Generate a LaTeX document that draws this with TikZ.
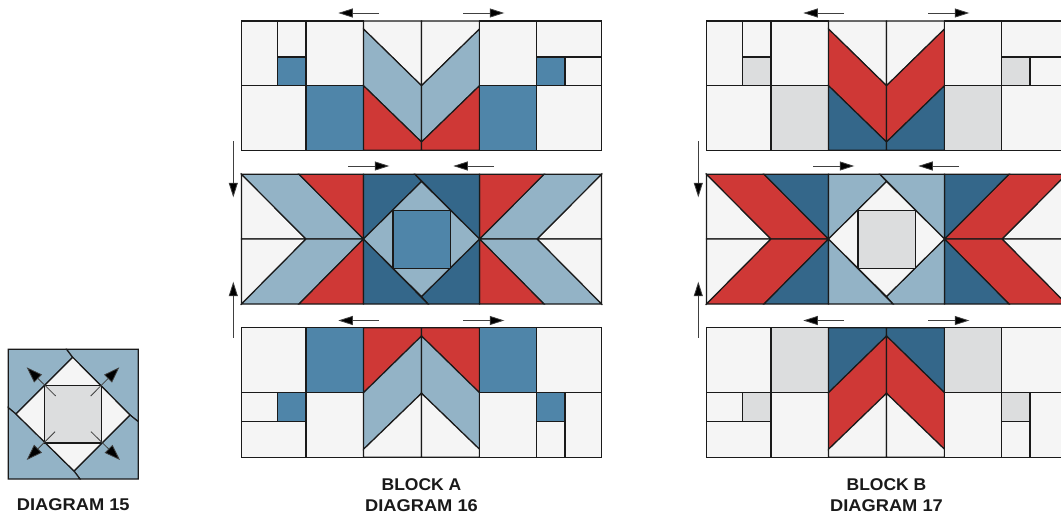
\documentclass[tikz,border=0pt]{standalone}
\usepackage{fontspec}
\setmainfont{Liberation Sans}
\newfontface\captionwide[FakeStretch=1.075]{Liberation Sans Bold}
\newfontface\captionnarrow[FakeStretch=1.03]{Liberation Sans Bold}
\usetikzlibrary{arrows.meta}
\definecolor{pale}{HTML}{F5F5F5}
\definecolor{lightblue}{HTML}{93B3C6}
\definecolor{midblue}{HTML}{4F85A9}
\definecolor{darkblue}{HTML}{34678A}
\definecolor{quiltred}{HTML}{CF3836}
\definecolor{quiltgray}{HTML}{DCDDDE}
\definecolor{inkline}{HTML}{1A1A1A}
\tikzset{
  patch/.style={draw=inkline,line width=1.2pt,line join=miter},
  pressarrow/.style={draw=black!75,line width=0.8pt,-{Triangle[length=14.5pt,width=9pt,fill=black]}},
  openarrow/.style={draw=black!75,line width=0.8pt,-{Triangle[length=16pt,width=11pt,fill=black]}},
  caption/.style={text=inkline,align=center,inner sep=0pt,anchor=base},
  captionlong/.style={caption,font=\captionwide\fontsize{17}{21}\selectfont},
  captionshort/.style={caption,font=\captionnarrow\fontsize{17}{21}\selectfont}
}
% #1 x shift, #2 chevron, #3 chevron side, #4 squares, #5 pinwheel, #6 diamond
\newcommand{\quiltblock}[6]{%
\begin{scope}[xshift=#1pt]
  % top row
  \draw[patch,fill=pale] (241.5,21) rectangle (277.5,85.7);
  \draw[patch,fill=pale] (277.5,21) rectangle (306,57);
  \draw[patch,fill=#4] (277.5,57) rectangle (306,85.7);
  \draw[patch,fill=pale] (306,21) rectangle (363.5,85.7);
  \draw[patch,fill=pale] (241.5,85.7) rectangle (306,150.3);
  \draw[patch,fill=#4] (306,85.7) rectangle (363.5,150.3);
  \draw[patch,fill=pale] (363.5,21) -- (421.5,21) -- (421.5,85.7) -- (363.5,29) -- cycle;
  \draw[patch,fill=pale] (479.5,21) -- (421.5,21) -- (421.5,85.7) -- (479.5,29) -- cycle;
  \draw[patch,fill=#2] (363.5,29) -- (421.5,85.7) -- (421.5,142) -- (363.5,85.7) -- cycle;
  \draw[patch,fill=#2] (479.5,29) -- (421.5,85.7) -- (421.5,142) -- (479.5,85.7) -- cycle;
  \draw[patch,fill=#3] (363.5,85.7) -- (421.5,142) -- (421.5,150.3) -- (363.5,150.3) -- cycle;
  \draw[patch,fill=#3] (479.5,85.7) -- (421.5,142) -- (421.5,150.3) -- (479.5,150.3) -- cycle;
  \draw[patch,fill=pale] (479.5,21) rectangle (536.5,85.7);
  \draw[patch,fill=pale] (536.5,21) rectangle (601.5,57);
  \draw[patch,fill=#4] (536.5,57) rectangle (565,85.7);
  \draw[patch,fill=pale] (565,57) rectangle (601.5,85.7);
  \draw[patch,fill=#4] (479.5,85.7) rectangle (536.5,150.3);
  \draw[patch,fill=pale] (536.5,85.7) rectangle (601.5,150.3);
  % middle row, left
  \draw[patch,fill=pale] (241.5,174.3) -- (306,239) -- (241.5,239) -- cycle;
  \draw[patch,fill=pale] (241.5,304) -- (306,239) -- (241.5,239) -- cycle;
  \draw[patch,fill=#2] (241.5,174.3) -- (299,174.3) -- (363.5,239) -- (306,239) -- cycle;
  \draw[patch,fill=#2] (241.5,304) -- (299,304) -- (363.5,239) -- (306,239) -- cycle;
  \draw[patch,fill=#3] (299,174.3) -- (363.5,174.3) -- (363.5,239) -- cycle;
  \draw[patch,fill=#3] (299,304) -- (363.5,304) -- (363.5,239) -- cycle;
  % middle row, right
  \draw[patch,fill=pale] (601.5,174.3) -- (537,239) -- (601.5,239) -- cycle;
  \draw[patch,fill=pale] (601.5,304) -- (537,239) -- (601.5,239) -- cycle;
  \draw[patch,fill=#2] (601.5,174.3) -- (544,174.3) -- (479.5,239) -- (537,239) -- cycle;
  \draw[patch,fill=#2] (601.5,304) -- (544,304) -- (479.5,239) -- (537,239) -- cycle;
  \draw[patch,fill=#3] (544,174.3) -- (479.5,174.3) -- (479.5,239) -- cycle;
  \draw[patch,fill=#3] (544,304) -- (479.5,304) -- (479.5,239) -- cycle;
  % middle row, centre
  \draw[patch,fill=#5] (363.5,174.3) -- (415,174.3) -- (421.5,181.5) -- (363.5,239) -- cycle;
  \draw[patch,fill=#5] (415,174.3) -- (479.5,174.3) -- (479.5,239) -- cycle;
  \draw[patch,fill=#5] (479.5,239) -- (479.5,304) -- (428,304) -- (421.5,296.5) -- cycle;
  \draw[patch,fill=#5] (363.5,239) -- (428,304) -- (363.5,304) -- cycle;
  \draw[patch,fill=#6] (421.5,181.5) -- (479.5,239) -- (421.5,296.5) -- (363.5,239) -- cycle;
  \draw[patch,fill=#4] (393,210.6) rectangle (450.3,268.2);
  % bottom row
  \draw[patch,fill=pale] (241.5,327.7) rectangle (306,392.7);
  \draw[patch,fill=#4] (306,327.7) rectangle (363.5,392.7);
  \draw[patch,fill=pale] (241.5,392.7) rectangle (277.5,421.7);
  \draw[patch,fill=#4] (277.5,392.7) rectangle (306,421.7);
  \draw[patch,fill=pale] (241.5,421.7) rectangle (306,457.3);
  \draw[patch,fill=pale] (306,392.7) rectangle (363.5,457.3);
  \draw[patch,fill=#3] (363.5,327.7) -- (421.5,327.7) -- (421.5,336) -- (363.5,392.7) -- cycle;
  \draw[patch,fill=#3] (479.5,327.7) -- (421.5,327.7) -- (421.5,336) -- (479.5,392.7) -- cycle;
  \draw[patch,fill=#2] (363.5,392.7) -- (421.5,336) -- (421.5,393.3) -- (363.5,449.3) -- cycle;
  \draw[patch,fill=#2] (479.5,392.7) -- (421.5,336) -- (421.5,393.3) -- (479.5,449.3) -- cycle;
  \draw[patch,fill=pale] (363.5,449.3) -- (421.5,393.3) -- (421.5,457.3) -- (363.5,457.3) -- cycle;
  \draw[patch,fill=pale] (479.5,449.3) -- (421.5,393.3) -- (421.5,457.3) -- (479.5,457.3) -- cycle;
  \draw[patch,fill=#4] (479.5,327.7) rectangle (536.5,392.7);
  \draw[patch,fill=pale] (536.5,327.7) rectangle (601.5,392.7);
  \draw[patch,fill=pale] (479.5,392.7) rectangle (536.5,457.3);
  \draw[patch,fill=#4] (536.5,392.7) rectangle (565,421.7);
  \draw[patch,fill=pale] (536.5,421.7) rectangle (565,457.3);
  \draw[patch,fill=pale] (565,392.7) rectangle (601.5,457.3);
  % pressing arrows
  \draw[pressarrow] (379,13) -- (338.3,13);
  \draw[pressarrow] (463.3,13) -- (504.3,13);
  \draw[pressarrow] (348.3,166) -- (389.3,166);
  \draw[pressarrow] (494,166) -- (453.3,166);
  \draw[pressarrow] (379,320.5) -- (338.3,320.5);
  \draw[pressarrow] (463.3,320.5) -- (504.3,320.5);
  \draw[pressarrow] (233.3,141) -- (233.3,197.3);
  \draw[pressarrow] (233.3,337.5) -- (233.3,281.7);
\end{scope}}
\begin{document}
\begin{tikzpicture}[x=1pt,y=-1pt]
  \useasboundingbox (0,0) rectangle (1061,514);
  \clip (0,0) rectangle (1061,514);
  \fill[white] (0,0) rectangle (1061,514);
  \quiltblock{0}{lightblue}{quiltred}{midblue}{darkblue}{lightblue}
  \quiltblock{465}{quiltred}{darkblue}{quiltgray}{lightblue}{pale}
  % diagram 15
  \draw[patch,fill=lightblue] (8.3,349.3) -- (66.7,349.3) -- (72.7,357.3) -- (16,414) -- (8.3,407.7) -- cycle;
  \draw[patch,fill=lightblue] (66.7,349.3) -- (138.3,349.3) -- (138.3,421.7) -- (130,415) -- (72.7,357.3) -- cycle;
  \draw[patch,fill=lightblue] (138.3,421.7) -- (138.3,479) -- (80,479) -- (74,471) -- (130,415) -- cycle;
  \draw[patch,fill=lightblue] (8.3,407.7) -- (16,414) -- (74,471) -- (80,479) -- (8.3,479) -- cycle;
  \draw[patch,fill=pale] (72.7,357.3) -- (130,415) -- (74,471) -- (16,414) -- cycle;
  \draw[patch,fill=quiltgray] (44.7,385.3) rectangle (101.3,443);
  \draw[openarrow] (55.7,396) -- (26.7,367.3);
  \draw[openarrow] (90.7,396) -- (119.3,367.3);
  \draw[openarrow] (55,431.7) -- (26.7,460);
  \draw[openarrow] (91,431.7) -- (120,460);
  % captions
  \node[captionlong] (cap15) at (73.3,510.7) {DIAGRAM 15};
  \node[captionshort] (capA) at (421.5,490) {BLOCK A};
  \node[captionlong] (cap16) at (421.5,511) {DIAGRAM 16};
  \node[captionshort] (capB) at (886.5,490) {BLOCK B};
  \node[captionlong] (cap17) at (886.5,511) {DIAGRAM 17};
\end{tikzpicture}
\end{document}
